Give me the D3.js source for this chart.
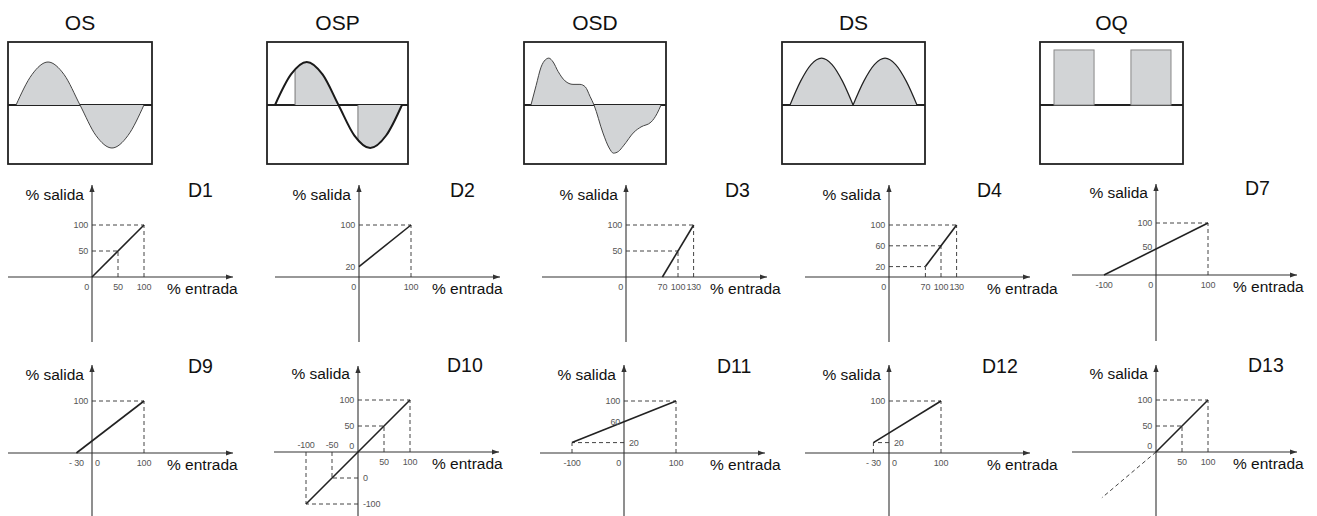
<!DOCTYPE html>
<html><head><meta charset="utf-8">
<script src="https://cdn.jsdelivr.net/npm/d3@7/dist/d3.min.js"></script>
<style>body{margin:0;background:#fff}svg{display:block}text{font-family:"Liberation Sans",Arial,sans-serif}</style>
</head><body><svg id="c" width="1317" height="516"></svg>
<script>
// ---------- waveform data (x in % of box width, y in amplitude units) ----------
const waveTitles = ["OS", "OSP", "OSD", "DS", "OQ"];
const osWave = [[5.6,0],[16.7,0.71],[27.8,1],[38.9,0.71],[50,0],[61.1,-0.71],[72.2,-1],[83.3,-0.71],[94.4,0]];
const ospWave = [[5.7,0],[17,0.71],[28.2,1],[39.4,0.71],[50.7,0],[62,-0.71],[73.2,-1],[84.5,-0.71],[95.7,0]];
const ospFillSpans = [[19.9,50.7],[64.5,95.7]];
const osdWave = [[4.9,0],[8.5,0.45],[12,0.88],[15,1.05],[17.5,1.09],[20.5,1.0],[24,0.78],[28.9,0.56],[34.5,0.48],[39.4,0.48],[43.2,0.42],[46.5,0.2],[49.3,0],[55.6,-0.65],[60,-1.0],[63,-1.12],[66.5,-1.08],[70,-0.95],[77.5,-0.63],[82.4,-0.51],[89.4,-0.4],[93.7,-0.2],[96.5,0]];
const dsHump1 = [[5.6,0],[12.95,0.55],[20.3,0.94],[27.65,1.09],[35,0.94],[42.35,0.55],[49.7,0]];
const dsHump2 = [[49.7,0],[57.15,0.55],[64.6,0.94],[72.05,1.09],[79.5,0.94],[86.95,0.55],[94.4,0]];
const oqPulses = [[9.8,37.8],[63.6,91.6]];
const oqLevel = [1.28];

// ---------- transfer-curve panels (data units) ----------
const panelNames = ["D1","D2","D3","D4","D7","D9","D10","D11","D12","D13"];
const d1Line = [[0,0],[100,100]],     d1Guides = [[100,100],[50,50]];
const d2Line = [[0,20],[100,100]],    d2Guides = [[100,100]];
const d3Line = [[70,0],[130,100]],    d3Guides = [[130,100],[100,50]];
const d4Line = [[70,20],[130,100]],   d4Guides = [[130,100],[100,60],[70,20]];
const d7Line = [[-100,0],[100,100]],  d7Guides = [[100,100]];
const d9Line = [[-30,0],[100,100]],   d9Guides = [[100,100]];
const d10Line = [[-100,-100],[100,100]], d10Guides = [[100,100],[50,50],[-50,-50],[-100,-100]];
const d11Line = [[-100,20],[100,100]], d11Guides = [[100,100],[-100,20]];
const d12Line = [[-30,20],[100,100]], d12Guides = [[100,100],[-30,20]];
const d13Line = [[0,0],[100,100]],    d13Guides = [[100,100],[50,50]];
const d13Extension = [[0,0],[-104,-88]];

// tick labels: [text, value, side]
const d1X = [["0",0,"bl"],["50",50,"b"],["100",100,"b"]],  d1Y = [["100",100,"l"],["50",50,"l"]];
const d2X = [["0",0,"bl"],["100",100,"b"]],                d2Y = [["100",100,"l"],["20",20,"l"]];
const d3X = [["0",0,"bl"],["70",70,"b"],["100",100,"b"],["130",130,"b"]], d3Y = [["100",100,"l"],["50",50,"l"]];
const d4X = [["0",0,"bl"],["70",70,"b"],["100",100,"b"],["130",130,"b"]], d4Y = [["100",100,"l"],["60",60,"l"],["20",20,"l"]];
const d7X = [["-100",-100,"b"],["0",0,"bl"],["100",100,"b"]], d7Y = [["100",100,"l"],["50",55,"l"]];
const d9X = [["- 30",-30,"b"],["0",0,"br"],["100",100,"b"]], d9Y = [["100",100,"l"]];
const d10X = [["-100",-100,"t"],["-50",-50,"t"],["0",0,"tl"],["50",50,"b"],["100",100,"b"]], d10Y = [["100",100,"l"],["50",50,"l"],["0",-50,"r"],["-100",-100,"r"]];
const d11X = [["-100",-100,"b"],["0",0,"bl"],["100",100,"b"]], d11Y = [["100",100,"l"],["60",60,"l"],["20",20,"r"]];
const d12X = [["- 30",-30,"b"],["0",0,"br"],["100",100,"b"]], d12Y = [["100",100,"l"],["20",20,"r"]];
const d13X = [["50",50,"b"],["100",100,"b"],["0",0,"tl"]], d13Y = [["100",100,"l"],["50",50,"l"]];
const yAxisLabel = "% salida", xAxisLabel = "% entrada";

// ---------- layout ----------
const waveBoxes = [[8,152],[267,408],[524,666],[782,925],[1040,1183]];
const boxTop = 42, boxBot = 164, mid = 105, amp = 43;
const panelLayout = [
  {ox:92, oy:277, top:92, bot:65, tx:188, ex:167},
  {ox:359,oy:277, top:92, bot:65, tx:450, ex:432},
  {ox:626,oy:277, top:92, bot:65, tx:725, ex:710},
  {ox:889,oy:277, top:92, bot:65, tx:977, ex:987},
  {ox:1156,oy:275,top:91, bot:66, tx:1245,ex:1233},
  {ox:92, oy:453, top:88, bot:63, tx:188, ex:167},
  {ox:358,oy:452, top:86, bot:64, tx:447, ex:432},
  {ox:624,oy:453, top:88, bot:63, tx:717, ex:710},
  {ox:889,oy:453, top:88, bot:63, tx:982, ex:987},
  {ox:1156,oy:452,top:87, bot:64, tx:1248,ex:1233}
];
const panels = [
  {line:d1Line, guides:d1Guides, xt:d1X, yt:d1Y},
  {line:d2Line, guides:d2Guides, xt:d2X, yt:d2Y},
  {line:d3Line, guides:d3Guides, xt:d3X, yt:d3Y},
  {line:d4Line, guides:d4Guides, xt:d4X, yt:d4Y},
  {line:d7Line, guides:d7Guides, xt:d7X, yt:d7Y},
  {line:d9Line, guides:d9Guides, xt:d9X, yt:d9Y},
  {line:d10Line,guides:d10Guides,xt:d10X,yt:d10Y},
  {line:d11Line,guides:d11Guides,xt:d11X,yt:d11Y},
  {line:d12Line,guides:d12Guides,xt:d12X,yt:d12Y},
  {line:d13Line,guides:d13Guides,xt:d13X,yt:d13Y, ext:d13Extension}
];

const svg = d3.select("#c");
const defs = svg.append("defs");
defs.append("marker").attr("id","arr").attr("viewBox","0 -4 8 8").attr("refX",7).attr("refY",0)
  .attr("markerWidth",8).attr("markerHeight",8).attr("markerUnits","userSpaceOnUse").attr("orient","auto")
  .append("path").attr("d","M0,-2.6L7,0L0,2.6Z").attr("fill","#333");

const FILL = "#d2d4d6";

// ---------- waveforms ----------
const waves = [osWave, ospWave, osdWave, null, null];
waveBoxes.forEach((b, i) => {
  const x = d3.scaleLinear().domain([0,100]).range(b);
  const y = d3.scaleLinear().domain([-1,1]).range([mid+amp, mid-amp]);
  const g = svg.append("g");
  const area = d3.area().x(d=>x(d[0])).y0(y(0)).y1(d=>y(d[1])).curve(d3.curveMonotoneX);
  const line = d3.line().x(d=>x(d[0])).y(d=>y(d[1])).curve(d3.curveMonotoneX);

  g.append("line").attr("x1",b[0]).attr("x2",b[1]).attr("y1",mid).attr("y2",mid)
    .attr("stroke","#222").attr("stroke-width",1.8);

  if (i === 0 || i === 2) {
    const w = waves[i];
    g.append("path").datum(w).attr("d",area).attr("fill",FILL);
    g.append("path").datum(w).attr("d",line).attr("fill","none").attr("stroke","#444").attr("stroke-width",1);
  } else if (i === 1) {
    const cp = defs.append("clipPath").attr("id","ospclip");
    ospFillSpans.forEach(s => cp.append("rect").attr("x",x(s[0])).attr("width",x(s[1])-x(s[0])).attr("y",boxTop).attr("height",boxBot-boxTop));
    g.append("path").datum(ospWave).attr("d",area).attr("fill",FILL).attr("clip-path","url(#ospclip)");
    const edge = (xv) => {
      const path = g.append("path").datum(ospWave).attr("d",line).attr("fill","none").attr("stroke","none");
      const node = path.node(), len = node.getTotalLength();
      let lo=0, hi=len;
      for (let k=0;k<30;k++){ const m=(lo+hi)/2; if (node.getPointAtLength(m).x < x(xv)) lo=m; else hi=m; }
      const p = node.getPointAtLength(lo); path.remove();
      g.append("line").attr("x1",x(xv)).attr("x2",x(xv)).attr("y1",mid).attr("y2",p.y).attr("stroke","#777").attr("stroke-width",1);
    };
    ospFillSpans.forEach(s => edge(s[0]));
    g.append("path").datum(ospWave).attr("d",line).attr("fill","none").attr("stroke","#1a1a1a").attr("stroke-width",2);
  } else if (i === 3) {
    [dsHump1, dsHump2].forEach(h => {
      g.append("path").datum(h).attr("d",area).attr("fill",FILL);
      g.append("path").datum(h).attr("d",line).attr("fill","none").attr("stroke","#222").attr("stroke-width",1.2);
    });
  } else if (i === 4) {
    oqPulses.forEach(p => {
      g.append("rect").attr("x",x(p[0])).attr("width",x(p[1])-x(p[0]))
        .attr("y",y(oqLevel[0])).attr("height",y(0)-y(oqLevel[0]))
        .attr("fill",FILL).attr("stroke","#888").attr("stroke-width",1);
    });
  }
  g.append("rect").attr("x",b[0]).attr("y",boxTop).attr("width",b[1]-b[0]).attr("height",boxBot-boxTop)
    .attr("fill","none").attr("stroke","#222").attr("stroke-width",1.8);
  g.append("text").attr("x",(b[0]+b[1])/2).attr("y",30).attr("text-anchor","middle")
    .attr("font-size",21).attr("fill","#111").text(waveTitles[i]);
});

// ---------- transfer-curve panels ----------
panels.forEach((p, i) => {
  const L = panelLayout[i];
  const x = d3.scaleLinear().domain([0,100]).range([L.ox, L.ox+52]);
  const y = d3.scaleLinear().domain([0,100]).range([L.oy, L.oy-52]);
  const g = svg.append("g");
  const ln = d3.line().x(d=>x(d[0])).y(d=>y(d[1]));

  p.guides.forEach(([gx,gy]) => {
    g.append("path").datum([[0,gy],[gx,gy]]).attr("d",ln).attr("fill","none")
      .attr("stroke","#444").attr("stroke-width",1).attr("stroke-dasharray","4,3");
    g.append("path").datum([[gx,0],[gx,gy]]).attr("d",ln).attr("fill","none")
      .attr("stroke","#444").attr("stroke-width",1).attr("stroke-dasharray","4,3");
  });
  if (p.ext) {
    g.append("path").datum(p.ext).attr("d",ln).attr("fill","none")
      .attr("stroke","#444").attr("stroke-width",1).attr("stroke-dasharray","4,3");
  }
  g.append("line").attr("x1",L.ox-84).attr("x2",L.ox+141).attr("y1",L.oy).attr("y2",L.oy)
    .attr("stroke","#333").attr("stroke-width",1.1).attr("marker-end","url(#arr)");
  g.append("line").attr("x1",L.ox).attr("x2",L.ox).attr("y1",L.oy+L.bot).attr("y2",L.oy-L.top)
    .attr("stroke","#333").attr("stroke-width",1.1).attr("marker-end","url(#arr)");
  g.append("path").datum(p.line).attr("d",ln).attr("fill","none")
    .attr("stroke","#222").attr("stroke-width",1.6);

  const tk = g.append("g").attr("font-size",9).attr("letter-spacing","-0.2").attr("fill","#555");
  p.xt.forEach(([t,v,s]) => {
    const e = tk.append("text").text(t);
    if (s === "b") e.attr("x",x(v)).attr("y",L.oy+13).attr("text-anchor","middle");
    else if (s === "bl") e.attr("x",x(v)-3).attr("y",L.oy+13).attr("text-anchor","end");
    else if (s === "br") e.attr("x",x(v)+3).attr("y",L.oy+13).attr("text-anchor","start");
    else if (s === "t") e.attr("x",x(v)).attr("y",L.oy-4).attr("text-anchor","middle");
    else if (s === "tl") e.attr("x",x(v)-4).attr("y",L.oy-3).attr("text-anchor","end");
  });
  p.yt.forEach(([t,v,s]) => {
    const e = tk.append("text").text(t).attr("y",y(v)).attr("dy","0.35em");
    if (s === "l") e.attr("x",L.ox-4).attr("text-anchor","end");
    else e.attr("x",L.ox+5).attr("text-anchor","start");
  });

  g.append("text").attr("x",L.ox-8).attr("y",L.oy-(i<5?77:73)).attr("text-anchor","end")
    .attr("font-size",15.5).attr("fill","#111").text(yAxisLabel);
  g.append("text").attr("x",L.ex).attr("y",L.oy+17).attr("font-size",15.5).attr("fill","#111").text(xAxisLabel);
  g.append("text").attr("x",L.tx).attr("y",L.oy-80).attr("font-size",19.5).attr("fill","#111").text(panelNames[i]);
});
</script></body></html>
